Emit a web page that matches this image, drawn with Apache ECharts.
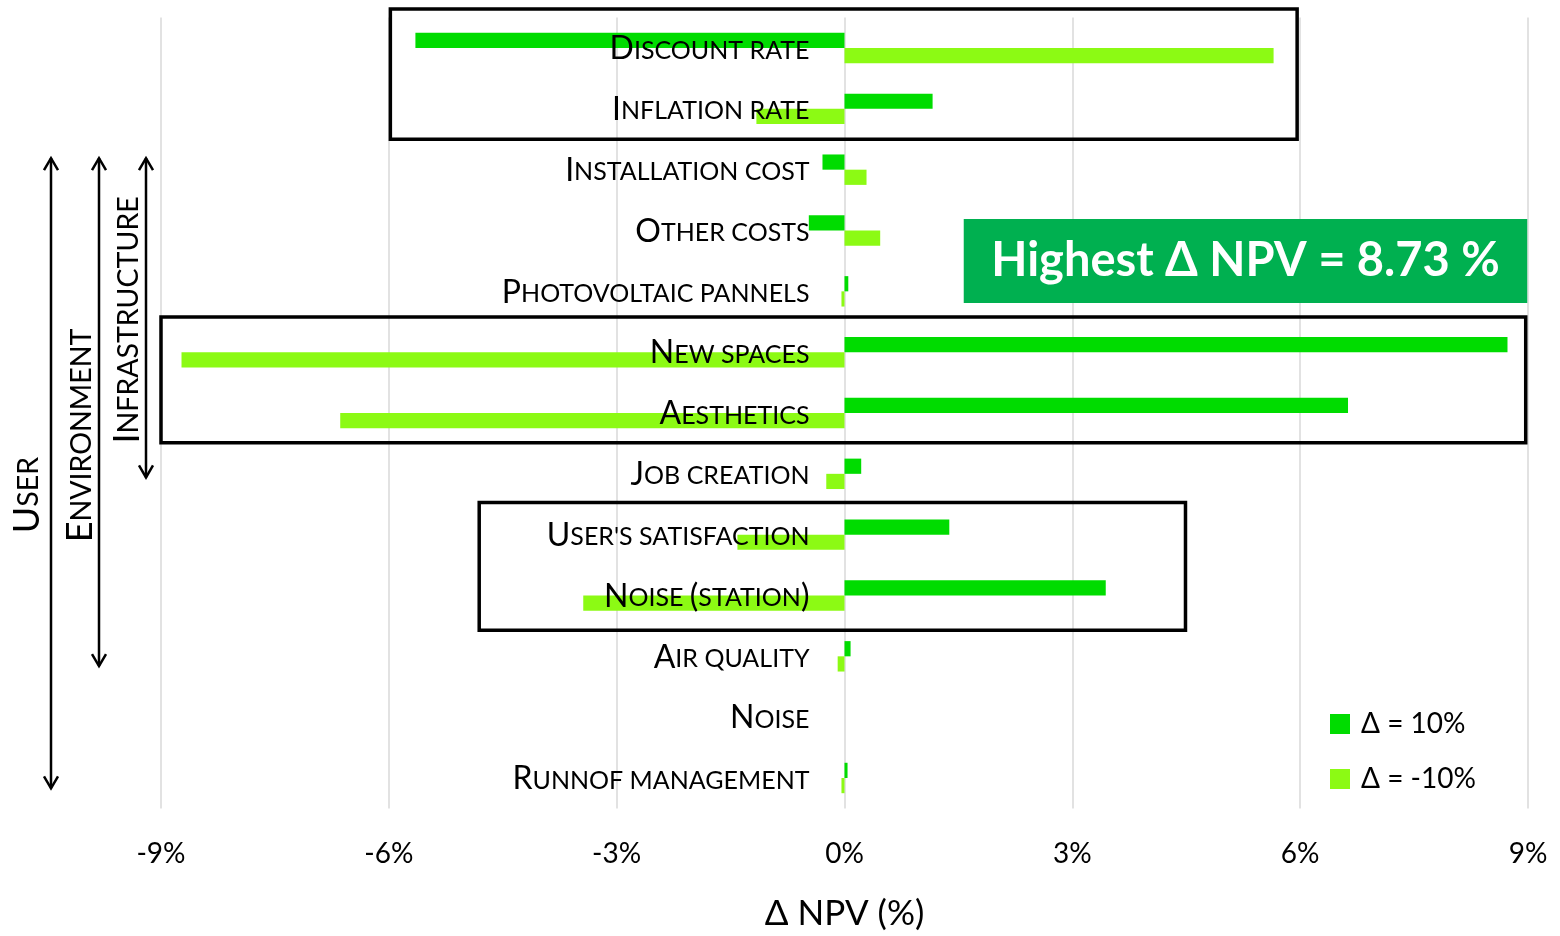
<!DOCTYPE html>
<html>
<head>
<meta charset="utf-8">
<script src="https://cdn.jsdelivr.net/npm/echarts@6/dist/echarts.min.js"></script>
<style>html,body{margin:0;padding:0;background:#fff}#c{width:1560px;height:936px}</style>
</head>
<body>
<div id="c"></div>
<script>
const categories = ['Discount rate','Inflation rate','Installation cost','Other costs','Photovoltaic pannels','New spaces','Aesthetics','Job creation',"User's satisfaction",'Noise (station)','Air quality','Noise','Runnof management'];
const plus10  = [-5.65, 1.16, -0.29, -0.47, 0.05, 8.73, 6.63, 0.22, 1.38, 3.44, 0.08, 0, 0.04];
const minus10 = [5.65, -1.16, 0.29, 0.47, -0.04, -8.73, -6.64, -0.24, -1.41, -3.44, -0.09, 0, -0.04];
const seriesNames = ['\u0394 = 10%', '\u0394 = -10%'];
const xTicks = {min: -9, max: 9, interval: 3};
const axisTitle = '\u0394 NPV (%)';
const highlightText = 'Highest \u0394 NPV = 8.73 %';
const groupLabels = ['User', 'Environment', 'Infrastructure'];

const FONT = "Lato, 'Open Sans', sans-serif";

function smallCaps(s) {
  let out = '', cur = null, buf = '';
  for (const ch of s) {
    const isBig = ch !== ch.toLowerCase() || ch === '(' || ch === ')';
    const t = isBig ? 'b' : 's';
    if (t !== cur && buf) { out += '{' + cur + '|' + buf + '}'; buf = ''; }
    cur = t; buf += ch.toUpperCase();
  }
  if (buf) out += '{' + cur + '|' + buf + '}';
  return out;
}
function capsRich(big, small) {
  return {
    b: {fontSize: big, fontFamily: FONT, color: '#000', verticalAlign: 'bottom', lineHeight: big},
    s: {fontSize: small, fontFamily: FONT, color: '#000', verticalAlign: 'bottom', lineHeight: big, padding: [0,0,2,0]}
  };
}
const richCaps = capsRich(32, 25);
const richGroup = capsRich(36, 28.5);

const chart = echarts.init(document.getElementById('c'), null, {renderer: 'canvas'});
chart.setOption({
  animation: false,
  backgroundColor: '#fff',
  grid: {left: 161, right: 32, top: 17.6, bottom: 127.6, containLabel: false, outerBoundsMode: 'none'},
  legend: {
    orient: 'vertical', left: 1325, top: 705, itemWidth: 20, itemHeight: 20, itemGap: 27,
    icon: 'rect', data: seriesNames,
    textStyle: {fontSize: 28, fontFamily: FONT, color: '#000', padding: [0,0,0,6]}
  },
  xAxis: {
    type: 'value', min: xTicks.min, max: xTicks.max, interval: xTicks.interval,
    axisLine: {show: false}, axisTick: {show: false},
    splitLine: {show: true, lineStyle: {color: '#d9d9d9', width: 1.5}},
    axisLabel: {formatter: '{value}%', fontSize: 28, fontFamily: FONT, color: '#000', margin: 32},
    name: axisTitle, nameLocation: 'middle', nameGap: 88,
    nameTextStyle: {fontSize: 35, fontFamily: FONT, color: '#000'}
  },
  yAxis: {
    type: 'category', inverse: true, data: categories,
    axisLine: {show: false}, axisTick: {show: false}, splitLine: {show: false},
    axisLabel: {show: false}
  },
  series: [
    {name: seriesNames[0], type: 'bar', data: plus10, barGap: '0%', barCategoryGap: '50%',
     itemStyle: {color: '#00DC00'}, z: 2},
    {name: seriesNames[1], type: 'bar', data: minus10, barGap: '0%', barCategoryGap: '50%',
     itemStyle: {color: '#8CFA14'}, z: 2},
    {name: 'labels', type: 'scatter', symbolSize: 0, z: 20, silent: true,
     data: categories.map(c => [0, c]),
     label: {show: true, position: 'left', distance: 35, color: '#000', opacity: 1, offset: [0, 1],
       formatter: p => smallCaps(p.value[1]), rich: richCaps}}
  ]
});

// annotation layout (data units: x in %, y in category index)
const boxes = [
  {x0: -5.98, x1: 5.96, y0: -0.64, y1: 1.50},
  {x0: -9.0, x1: 8.97, y0: 4.42, y1: 6.49},
  {x0: -4.81, x1: 4.49, y0: 7.47, y1: 9.57}
];
const highlight = {x0: 1.57, x1: 8.99, y0: 2.81, y1: 4.19};
const arrows = [
  {px: 51, y0: 1.81, y1: 12.17, lx: 27, ly: 7.35},
  {px: 99, y0: 1.81, y1: 10.16, lx: 80, ly: 6.37},
  {px: 146, y0: 1.81, y1: 7.06, lx: 127, ly: 4.47}
];

function px(x, y) {
  const a = chart.convertToPixel({gridIndex: 0}, [x, 0]);
  const b = chart.convertToPixel({gridIndex: 0}, [0, 0]);
  const c = chart.convertToPixel({gridIndex: 0}, [0, 1]);
  return [a[0], b[1] + y * (c[1] - b[1])];
}

const elements = [];
boxes.forEach(bx => {
  const p0 = px(bx.x0, bx.y0), p1 = px(bx.x1, bx.y1);
  elements.push({type: 'rect', z: 100, shape: {x: p0[0], y: p0[1], width: p1[0]-p0[0], height: p1[1]-p0[1]},
    style: {fill: null, stroke: '#000', lineWidth: 3.5}});
});
{
  const p0 = px(highlight.x0, highlight.y0), p1 = px(highlight.x1, highlight.y1);
  elements.push({type: 'rect', z: 100, shape: {x: p0[0], y: p0[1], width: p1[0]-p0[0], height: p1[1]-p0[1]},
    style: {fill: '#00B050'}});
  elements.push({type: 'text', z: 101, x: (p0[0]+p1[0])/2, y: (p0[1]+p1[1])/2,
    style: {text: highlightText, fill: '#fff', font: "bold 47px " + FONT, align: 'center', verticalAlign: 'middle'}});
}
arrows.forEach((ar, i) => {
  const yt = px(0, ar.y0)[1], yb = px(0, ar.y1)[1], x = ar.px;
  const st = {stroke: '#000', lineWidth: 2.5, fill: null};
  elements.push({type: 'line', z: 100, shape: {x1: x, y1: yt, x2: x, y2: yb}, style: st});
  elements.push({type: 'polyline', z: 100, shape: {points: [[x-7, yt+12],[x, yt],[x+7, yt+12]]}, style: st});
  elements.push({type: 'polyline', z: 100, shape: {points: [[x-7, yb-12],[x, yb],[x+7, yb-12]]}, style: st});
  elements.push({type: 'text', z: 100, x: ar.lx, y: px(0, ar.ly)[1], rotation: Math.PI/2,
    style: {text: smallCaps(groupLabels[i]), rich: richGroup, align: 'center', verticalAlign: 'middle'}});
});
chart.setOption({graphic: {elements: elements}});
</script>
</body>
</html>
